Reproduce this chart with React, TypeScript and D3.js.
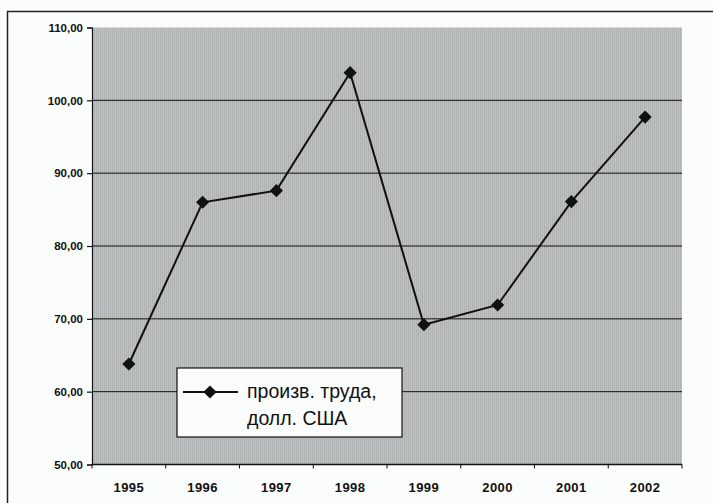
import React, { useEffect, useRef } from "react";
import * as d3 from "d3";

const years = ["1995", "1996", "1997", "1998", "1999", "2000", "2001", "2002"];
const productivity = [63.8, 86.0, 87.6, 103.8, 69.2, 71.9, 86.1, 97.7];
const yTicks = [50, 60, 70, 80, 90, 100, 110];
const legendLines = ["произв. труда,", "долл. США"];

const App: React.FC = () => {
  const svgRef = useRef<SVGSVGElement>(null);

  useEffect(() => {
    if (!svgRef.current) return;
    const width = 713;
    const height = 503;
    const margin = { top: 27.5, right: 31, bottom: 38.5, left: 92 };
    const chartWidth = width - margin.left - margin.right;
    const chartHeight = height - margin.top - margin.bottom;
    const font = "Liberation Sans, Arial, sans-serif";

    const svg = d3.select(svgRef.current);
    svg.selectAll("*").remove();
    svg.attr("width", width).attr("height", height);

    svg
      .append("rect")
      .attr("width", width)
      .attr("height", height)
      .attr("fill", "#fbfcfc");

    // halftone pattern for plot area
    const defs = svg.append("defs");
    const pat = defs
      .append("pattern")
      .attr("id", "halftone")
      .attr("width", 2)
      .attr("height", 2)
      .attr("patternUnits", "userSpaceOnUse");
    pat.append("rect").attr("width", 2).attr("height", 2).attr("fill", "#e6eaea");
    pat.append("rect").attr("width", 1).attr("height", 1).attr("fill", "#767a7a");
    pat.append("rect").attr("x", 1).attr("y", 1).attr("width", 1).attr("height", 1).attr("fill", "#969a9a");

    // outer chart frame
    svg
      .append("path")
      .attr("d", `M7.5,${height} V11.5 H${width}`)
      .attr("fill", "none")
      .attr("stroke", "#222")
      .attr("stroke-width", 1.5);

    const g = svg
      .append("g")
      .attr("transform", `translate(${margin.left},${margin.top})`);

    const x = d3.scaleBand().domain(years).range([0, chartWidth]);
    const y = d3.scaleLinear().domain([50, 110]).range([chartHeight, 0]);

    g.append("rect")
      .attr("width", chartWidth)
      .attr("height", chartHeight)
      .attr("fill", "url(#halftone)");

    // gridlines
    g.append("g")
      .selectAll("line")
      .data(yTicks.slice(1, -1))
      .enter()
      .append("line")
      .attr("x1", 0)
      .attr("x2", chartWidth)
      .attr("y1", (d) => y(d))
      .attr("y2", (d) => y(d))
      .attr("stroke", "#111")
      .attr("stroke-width", 1);

    // y axis
    const yAxis = g
      .append("g")
      .call(
        d3
          .axisLeft(y)
          .tickValues(yTicks)
          .tickSize(5)
          .tickPadding(4)
          .tickFormat((d) => d3.format(".2f")(d as number).replace(".", ","))
      );
    yAxis
      .selectAll("text")
      .style("font-family", font)
      .style("font-size", "11.5px")
      .style("font-weight", "bold")
      .style("fill", "#111");
    yAxis.selectAll(".domain, .tick line").attr("stroke", "#111").attr("stroke-width", 1.2);

    // x axis with ticks at category boundaries
    const xAxis = g.append("g").attr("transform", `translate(0,${chartHeight})`);
    xAxis
      .append("line")
      .attr("x1", 0)
      .attr("x2", chartWidth)
      .attr("stroke", "#111")
      .attr("stroke-width", 1.5);
    xAxis
      .selectAll(".xtick")
      .data([...years.map((d) => x(d) || 0), chartWidth])
      .enter()
      .append("line")
      .attr("x1", (d) => d)
      .attr("x2", (d) => d)
      .attr("y1", 0)
      .attr("y2", 4)
      .attr("stroke", "#111");
    xAxis
      .selectAll(".xlabel")
      .data(years)
      .enter()
      .append("text")
      .attr("x", (d) => (x(d) || 0) + x.bandwidth() / 2)
      .attr("y", 27.5)
      .attr("text-anchor", "middle")
      .style("font-family", font)
      .style("font-size", "13px")
      .style("font-weight", "bold")
      .style("letter-spacing", "0.4px")
      .style("fill", "#111")
      .text((d) => d);

    const line = d3
      .line<number>()
      .x((_d, i) => (x(years[i]) || 0) + x.bandwidth() / 2)
      .y((d) => y(d));

    g.append("path")
      .datum(productivity)
      .attr("fill", "none")
      .attr("stroke", "#111")
      .attr("stroke-width", 2)
      .attr("d", line);

    const diamond = d3.symbol().type(d3.symbolDiamond2).size(110);
    g.selectAll(".dot")
      .data(productivity)
      .enter()
      .append("path")
      .attr("d", diamond)
      .attr(
        "transform",
        (d, i) => `translate(${(x(years[i]) || 0) + x.bandwidth() / 2},${y(d)})`
      )
      .attr("fill", "#111");

    // legend
    const legend = svg.append("g").attr("transform", "translate(177,368)");
    legend
      .append("rect")
      .attr("width", 225)
      .attr("height", 69)
      .attr("fill", "#fbfcfc")
      .attr("stroke", "#111")
      .attr("stroke-width", 1.2);
    legend
      .append("line")
      .attr("x1", 6)
      .attr("x2", 61)
      .attr("y1", 24)
      .attr("y2", 24)
      .attr("stroke", "#111")
      .attr("stroke-width", 2);
    legend
      .append("path")
      .attr("d", diamond)
      .attr("transform", "translate(33,24)")
      .attr("fill", "#111");
    legend
      .selectAll(".ltext")
      .data(legendLines)
      .enter()
      .append("text")
      .attr("x", 70)
      .attr("y", (_d, i) => 30 + i * 27)
      .style("font-family", font)
      .style("font-size", "19.5px")
      .style("fill", "#111")
      .text((d) => d);
  }, []);

  return (
    <svg
      ref={svgRef}
      style={{ position: "absolute", left: 0, top: 0, display: "block" }}
    />
  );
};

export default App;
